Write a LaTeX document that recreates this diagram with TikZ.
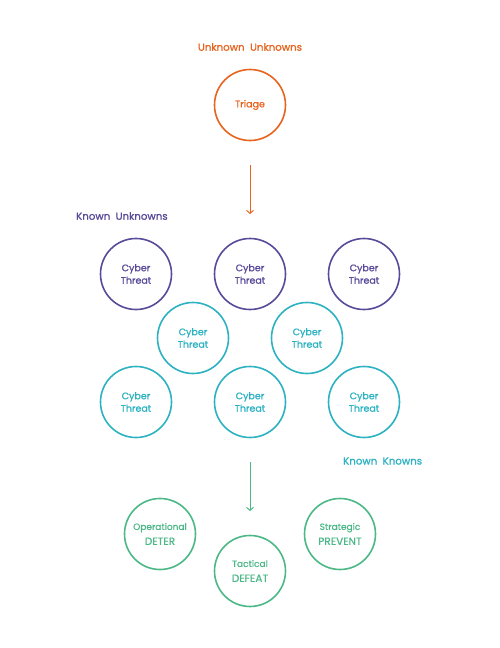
\documentclass[tikz,border=0pt]{standalone}
\usepackage{fontspec}
\setmainfont{Poppins}[FakeBold=1.2,AutoFakeBold=1.2]
\usetikzlibrary{arrows.meta}
\definecolor{corange}{HTML}{E8641E}
\definecolor{cpurple}{HTML}{5A4A9A}
\definecolor{cteal}{HTML}{2DB2C2}
\definecolor{cgreen}{HTML}{4DB887}
\newcommand{\medw}{\addfontfeatures{FakeBold=0.8}}
\begin{document}
\begin{tikzpicture}[x=1pt,y=-1pt,
  circ/.style={circle,draw=#1,text=#1,line width=1.6pt,minimum size=71pt,inner sep=0pt,align=center,font=\fontsize{9.5}{12.5}\selectfont\medw},
  lbl/.style={text=#1,font=\fontsize{10.2}{12}\selectfont,inner sep=0pt},
  arr/.style={draw=#1,line width=1pt,-{Straight Barb[length=3pt,width=7pt]}}]
\useasboundingbox (0,0) rectangle (499,648);
\node[lbl=corange] (uu) at (250,47) {Unknown\ \ Unknowns};
\node[circ=corange] (triage) at (250,105) {Triage};
\coordinate (a1s) at (250,165);
\coordinate (a1e) at (250,214);
\draw[arr=corange] (a1s) -- (a1e);
\node[lbl=cpurple,anchor=west] (ku) at (76,216) {Known\ \ Unknowns};
\node[circ=cpurple] (p1) at (136,274) {Cyber\\Threat};
\node[circ=cpurple] (p2) at (250,274) {Cyber\\Threat};
\node[circ=cpurple] (p3) at (364,274) {Cyber\\Threat};
\node[circ=cteal] (t1) at (193,338) {Cyber\\Threat};
\node[circ=cteal] (t2) at (307,338) {Cyber\\Threat};
\node[circ=cteal] (t3) at (136,402) {Cyber\\Threat};
\node[circ=cteal] (t4) at (250,402) {Cyber\\Threat};
\node[circ=cteal] (t5) at (364,402) {Cyber\\Threat};
\node[lbl=cteal,anchor=west] (kk) at (343,461) {Known\ \ Knowns};
\coordinate (a2s) at (250,462);
\coordinate (a2e) at (250,511);
\draw[arr=cgreen] (a2s) -- (a2e);
\node[circ=cgreen,font=\fontsize{9}{15}\selectfont\medw] (op) at (160,534) {Operational\\{\fontsize{10.5}{15}\selectfont DETER}};
\node[circ=cgreen,font=\fontsize{9}{15}\selectfont\medw] (tac) at (250,571) {Tactical\\{\fontsize{10.5}{15}\selectfont DEFEAT}};
\node[circ=cgreen,font=\fontsize{9}{15}\selectfont\medw] (str) at (340,534) {Strategic\\{\fontsize{10.5}{15}\selectfont PREVENT}};
\end{tikzpicture}
\end{document}
